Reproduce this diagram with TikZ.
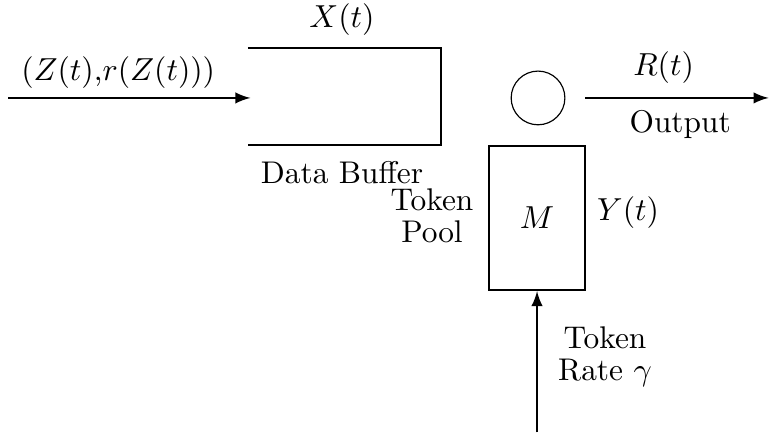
\documentclass[tikz,border=0pt]{standalone}
\usetikzlibrary{arrows}

\begin{document}
\begin{tikzpicture}[>=latex,font=\fontsize{10.8pt}{11pt}\selectfont,
		flow/.style={->,thick},
		poolbox/.style={draw,thick,minimum width=1.16cm,minimum height=1.74cm,inner sep=0pt},
		server/.style={draw,circle,minimum size=.65cm,inner sep=0pt},
		lbl/.style={align=center}]
		\useasboundingbox (0,0) rectangle (9.317,5.251);
		
		% data buffer, open on the left
		\draw[thick] (3,4.671)--(5.336,4.671)--(5.336,3.497)--(3,3.497);
		\node (xt) at (4.138,5.009) {$X(t)$};
		\node (buflbl) at (4.138,3.16) {Data Buffer};
		
		\coordinate (in) at (.097,4.066);
		\coordinate (buf) at (3.03,4.066);
		\draw[flow] (in)--(buf);
		\node (zt) at (1.43,4.37) {$(Z(t)$,$r(Z(t)))$};
		
		\node[server] (srv) at (6.51,4.066) {};
		\coordinate (out0) at (7.079,4.066);
		\coordinate (out) at (9.30,4.066);
		\draw[flow] (out0)--(out);
		\node (rt) at (8.03,4.43) {$R(t)$};
		\node (outlbl) at (8.23,3.74) {Output};
		
		% token pool
		\node[poolbox] (pool) at (6.498,2.613) {$M$};
		\node[lbl] (poollbl) at (5.227,2.64) {Token\\Pool};
		\node (yt) at (7.6,2.674) {$Y(t)$};
		
		\coordinate (src) at (6.498,.02);
		\draw[flow] (src)--(pool.south);
		\node[lbl] (ratelbl) at (7.32,.94) {Token\\Rate $\gamma$};
	\end{tikzpicture}
\end{document}
